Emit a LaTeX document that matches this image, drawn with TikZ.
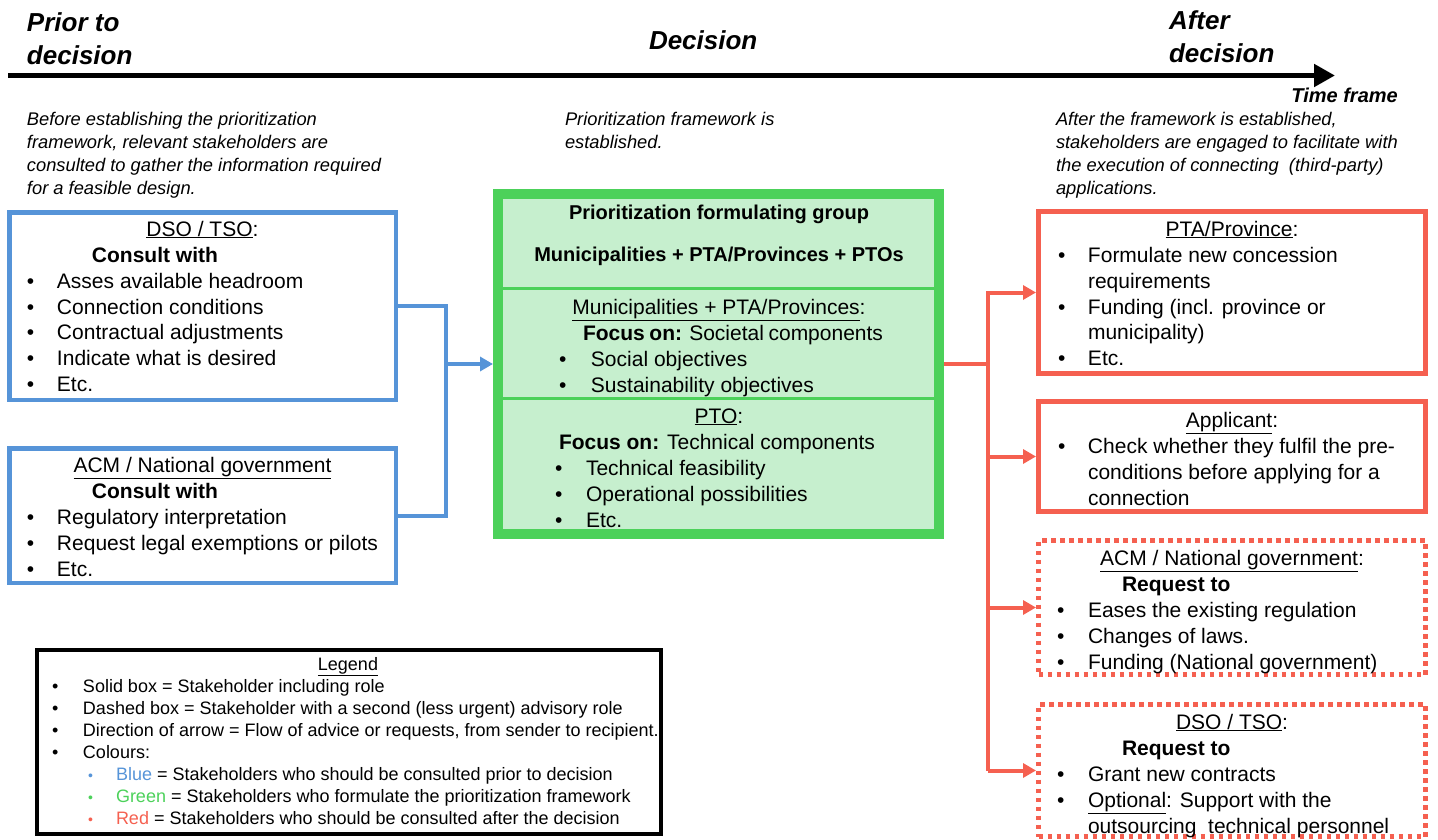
\documentclass[tikz,border=0pt]{standalone}
\usepackage{fontspec}
\setmainfont{Liberation Sans}
\usetikzlibrary{arrows.meta}

\definecolor{stkblue}{RGB}{86,148,216}
\definecolor{stkgreen}{RGB}{76,209,90}
\definecolor{stkfill}{RGB}{198,239,206}
\definecolor{stkred}{RGB}{245,96,80}

\newcommand{\setfs}[2]{\fontsize{#1}{#2}\selectfont}
\newcommand{\bitem}[2][30pt]{\makebox[#1][l]{•}\mbox{#2}}
\newcommand{\ctrline}[1]{\makebox[\linewidth][c]{#1}}
\newcommand{\colbul}[1]{\makebox[28pt][l]{\color{#1}\setfs{14}{22}•}}

\tikzset{
  txt/.style={inner sep=0pt, outer sep=0pt, anchor=base west},
  ctxt/.style={inner sep=0pt, outer sep=0pt, anchor=base},
  head/.style={txt, font=\setfs{26}{33}\bfseries\itshape},
  note/.style={txt, font=\setfs{18.3}{23}\itshape},
  bluebox/.style={draw=stkblue, line width=4.5pt, inner sep=0pt},
  redbox/.style={draw=stkred, line width=5pt, inner sep=0pt},
  reddotbox/.style={draw=stkred, line width=5pt, inner sep=0pt, dash pattern=on 4.5pt off 4.5pt},
  blueline/.style={draw=stkblue, line width=4pt},
  redline/.style={draw=stkred, line width=4pt},
  tip/.style={-{Triangle[length=13pt,width=14pt]}},
}

\begin{document}
\begin{tikzpicture}[x=1pt,y=-1pt]
\useasboundingbox (0,0) rectangle (1438,840);

% time line
\coordinate (tl0) at (8,75.5);
\coordinate (tl1) at (1335,75.5);
\draw[line width=5pt, -{Triangle[length=21pt,width=22pt]}] (tl0) -- (tl1);

\node[head] (hprior) at (27,32) {\parbox[t]{200pt}{\setfs{26}{33}Prior to\\decision}};
\node[head] (hdec) at (649,50) {Decision};
\node[head] (hafter) at (1169,30) {\parbox[t]{200pt}{\setfs{26}{33}After\\decision}};
\node[inner sep=0pt, anchor=base east, font=\setfs{20}{24}\bfseries\itshape] (htime) at (1398,103) {Time frame};

% phase notes
\node[note] (nprior) at (27,126) {\parbox[t]{400pt}{\setfs{18.3}{23}\itshape Before establishing the prioritization\\framework, relevant stakeholders are\\consulted to gather the information required\\for a feasible design.}};
\node[note] (ndec) at (565,126) {\parbox[t]{300pt}{\setfs{18.3}{23}\itshape Prioritization framework is\\established.}};
\node[note] (nafter) at (1056,126) {\parbox[t]{380pt}{\setfs{18.3}{23}\itshape After the framework is established,\\stakeholders are engaged to facilitate with\\the execution of connecting\ \ (third-party)\\applications.}};

% stakeholders consulted before the decision
\node[bluebox, minimum width=386.5pt, minimum height=187.5pt] (dso) at (202.5,306) {};
\node[bluebox, minimum width=386.5pt, minimum height=134.5pt] (acmb) at (202.5,515.5) {};
\node[txt] (dsotxt) at (27,236) {\parbox[t]{351pt}{\setfs{21}{26}%
  \ctrline{\underline{DSO / TSO}:}\\
  \hspace*{65pt}\textbf{Consult with}\\
  \bitem{Asses available headroom}\\
  \bitem{Connection conditions}\\
  \bitem{Contractual adjustments}\\
  \bitem{Indicate what is desired}\\
  \bitem{Etc.}}};
\node[txt] (acmbtxt) at (27,472) {\parbox[t]{351pt}{\setfs{21}{26}%
  \ctrline{\underline{ACM / National government}}\\
  \hspace*{65pt}\textbf{Consult with}\\
  \bitem{Regulatory interpretation}\\
  \bitem{Request legal exemptions or pilots}\\
  \bitem{Etc.}}};

% prioritization formulating group
\node[draw=stkgreen, fill=stkfill, line width=10pt, inner sep=0pt,
      minimum width=441pt, minimum height=340pt] (grp) at (718.5,364) {};
\draw[stkgreen, line width=3pt] (503,288.5) -- (934,288.5);
\draw[stkgreen, line width=3pt] (503,398) -- (934,398);
\node[ctxt, font=\setfs{20}{24}\bfseries] (gtitle) at (719,219) {Prioritization formulating group};
\node[ctxt, font=\setfs{20}{24}\bfseries] (gmembers) at (719,261) {Municipalities + PTA/Provinces + PTOs};
\node[txt] (gsoc) at (555,314) {\parbox[t]{328pt}{\setfs{21}{26}%
  \ctrline{\underline{Municipalities + PTA/Provinces}:}\\
  \hspace*{28pt}\textbf{Focus on:} Societal components\\
  \hspace*{4pt}\bitem[32pt]{Social objectives}\\
  \hspace*{4pt}\bitem[32pt]{Sustainability objectives}}};
\node[txt] (gtech) at (555,423) {\parbox[t]{328pt}{\setfs{21}{26}%
  \ctrline{\underline{PTO}:}\\
  \hspace*{4pt}\textbf{Focus on:} Technical components\\
  \bitem[31pt]{Technical feasibility}\\
  \bitem[31pt]{Operational possibilities}\\
  \bitem[31pt]{Etc.}}};

% stakeholders consulted after the decision
\node[redbox, minimum width=387pt, minimum height=162pt] (pta) at (1232,292.5) {};
\node[redbox, minimum width=387pt, minimum height=110pt] (appl) at (1232,456.5) {};
\node[reddotbox, minimum width=387pt, minimum height=134pt] (acmr) at (1232,607.5) {};
\node[reddotbox, minimum width=387pt, minimum height=132pt] (dsor) at (1232,770.5) {};
\node[txt] (ptatxt) at (1058,236) {\parbox[t]{348pt}{\setfs{21}{26}%
  \ctrline{\underline{PTA/Province}:}\\
  \bitem{Formulate new concession}\\
  \hspace*{30pt}requirements\\
  \bitem{Funding (incl. province or}\\
  \hspace*{30pt}municipality)\\
  \bitem{Etc.}}};
\node[txt] (appltxt) at (1058,427) {\parbox[t]{348pt}{\setfs{21}{26}%
  \ctrline{\underline{Applicant}:}\\
  \bitem{Check whether they fulfil the pre-}\\
  \hspace*{30pt}conditions before applying for a\\
  \hspace*{30pt}connection}};
\node[txt] (acmrtxt) at (1057,565) {\parbox[t]{350pt}{\setfs{21}{26}%
  \ctrline{\underline{ACM / National government}:}\\
  \hspace*{65pt}\textbf{Request to}\\
  \bitem[31pt]{Eases the existing regulation}\\
  \bitem[31pt]{Changes of laws.}\\
  \bitem[31pt]{Funding (National government)}}};
\node[txt] (dsortxt) at (1057,729) {\parbox[t]{350pt}{\setfs{21}{26}%
  \ctrline{\underline{DSO / TSO}:}\\
  \hspace*{65pt}\textbf{Request to}\\
  \bitem[31pt]{Grant new contracts}\\
  \bitem[31pt]{\underline{Optional}: Support with the}\\
  \hspace*{31pt}outsourcing\ \ technical personnel}};

% connectors
\coordinate (bj) at (446,364);
\draw[blueline] (dso.east) -| (bj) |- (acmb.east);
\draw[blueline, tip] (bj) -- (grp.west);

\coordinate (rj) at (988,364);
\draw[redline] (grp.east) -- (rj);
\draw[redline, tip] (dsor.west -| rj) -- (pta.west -| rj) -- (pta.west);
\draw[redline, tip] (appl.west -| rj) -- (appl.west);
\draw[redline, tip] (acmr.west -| rj) -- (acmr.west);
\draw[redline, tip] (dsor.west -| rj) -- (dsor.west);

% legend
\node[draw=black, line width=4pt, inner sep=0pt, minimum width=624pt, minimum height=184pt] (legend) at (349,742) {};
\node[txt] (legtxt) at (52,670) {\parbox[t]{592pt}{\setfs{18}{22}\hbadness=10000\hfuzz=100pt%
  \ctrline{\underline{Legend}}\\
  \bitem[31pt]{Solid box = Stakeholder including role}\\
  \bitem[31pt]{Dashed box = Stakeholder with a second (less urgent) advisory role}\\
  \bitem[31pt]{Direction of arrow = Flow of advice or requests, from sender to recipient.}\\
  \bitem[31pt]{Colours:}\\
  \hspace*{36pt}\colbul{stkblue}\mbox{\textcolor{stkblue}{Blue} = Stakeholders who should be consulted prior to decision}\\
  \hspace*{36pt}\colbul{stkgreen}\mbox{\textcolor{stkgreen}{Green} = Stakeholders who formulate the prioritization framework}\\
  \hspace*{36pt}\colbul{stkred}\mbox{\textcolor{stkred}{Red} = Stakeholders who should be consulted after the decision}}};
\end{tikzpicture}
\end{document}
